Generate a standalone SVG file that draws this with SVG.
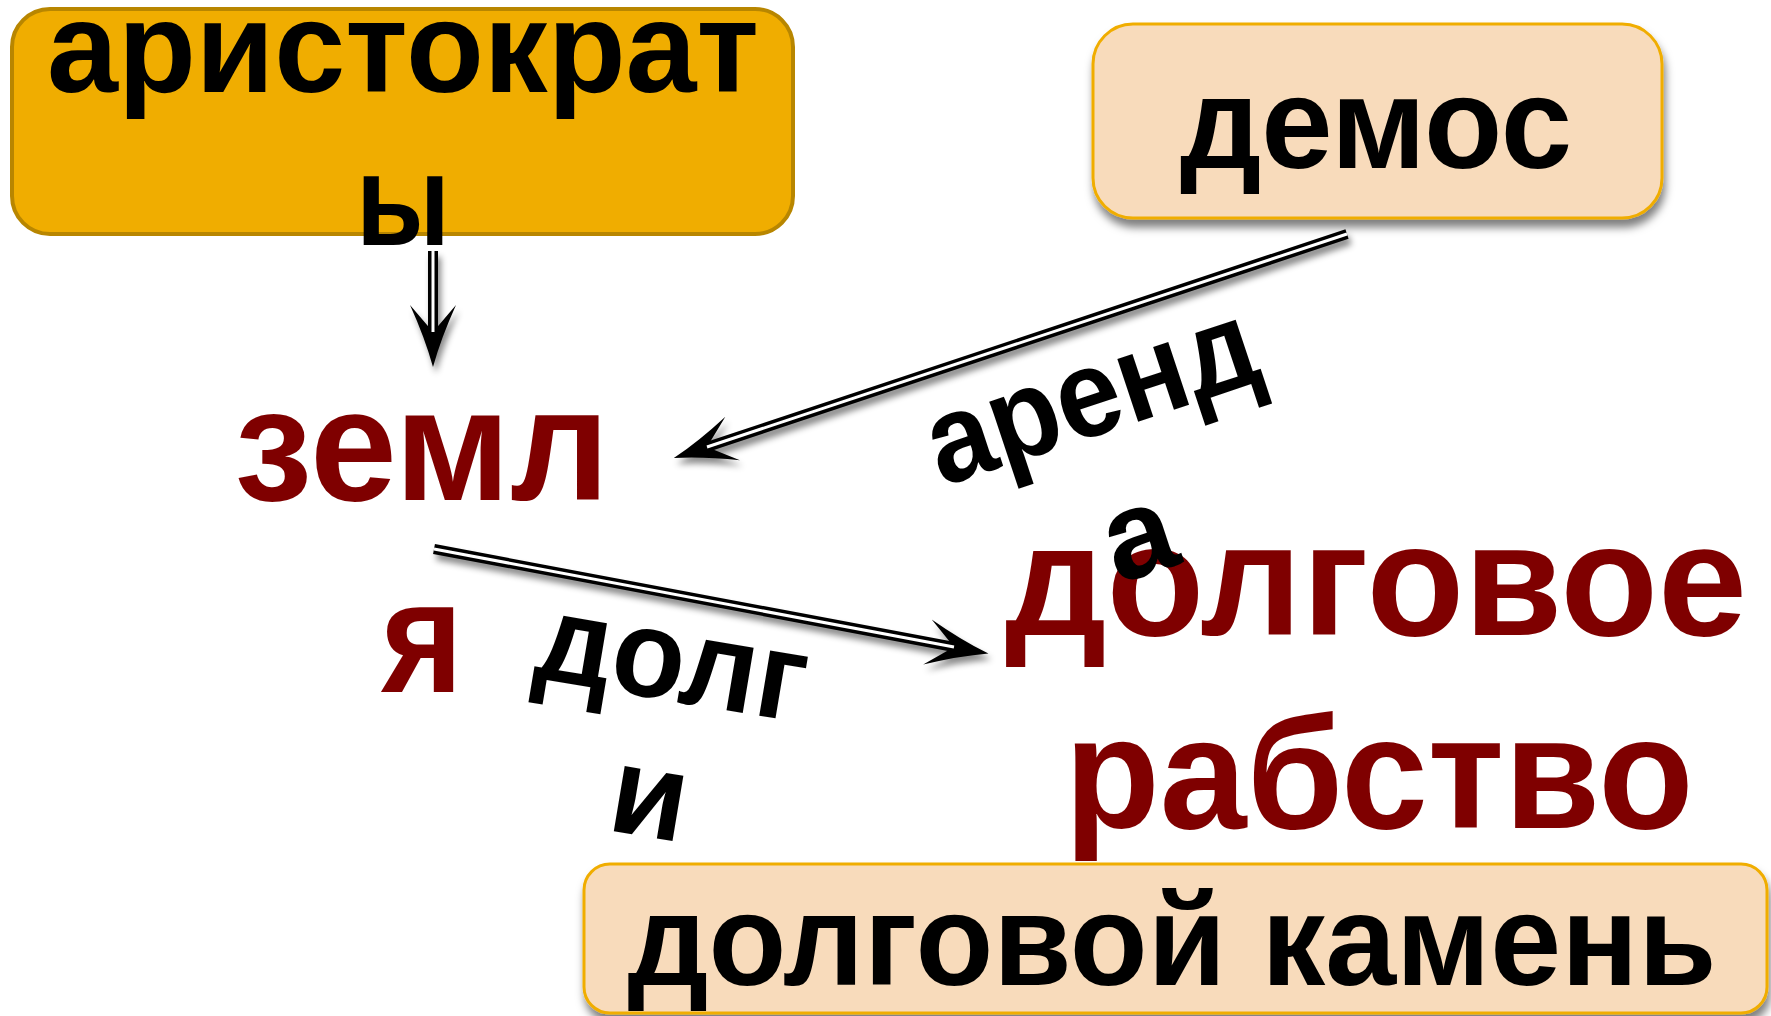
<svg xmlns="http://www.w3.org/2000/svg" width="1771" height="1016" viewBox="0 0 1771 1016">
<style>
.t{font-family:"Liberation Sans",Arial,sans-serif;font-weight:bold;text-anchor:middle}
.blk{fill:#000;font-size:130px}
.red{fill:#7F0000;font-size:160px}
.lbl{fill:#000;font-size:125px}
.gold{fill:#F0AD00;stroke:#B88600;stroke-width:4}
.peach{fill:#F8DBBB;stroke:#F0AD00;stroke-width:3}
.lk{stroke:#000;stroke-width:10;fill:none}
.lw{stroke:#fff;stroke-width:3;fill:none}
</style>
<defs>
<filter id="sh" filterUnits="userSpaceOnUse" x="0" y="0" width="1771" height="1016">
<feDropShadow dx="3" dy="6" stdDeviation="3" flood-color="#000" flood-opacity="0.45"/>
</filter>
<filter id="bsh" filterUnits="userSpaceOnUse" x="0" y="0" width="1771" height="1016">
<feDropShadow dx="2" dy="8" stdDeviation="4" flood-color="#000" flood-opacity="0.5"/>
</filter>
<marker id="ah" markerUnits="userSpaceOnUse" markerWidth="70" markerHeight="50" viewBox="0 -25 70 50" refX="27" refY="0" orient="auto">
<path d="M0,-23 Q33,-8 62,0 Q33,8 0,23 L27,0 Z" fill="#000"/>
</marker>
</defs>
<rect width="1771" height="1016" fill="#fff"/>

<g id="node-aristokraty">
<rect class="gold" x="12" y="9" width="781" height="225" rx="38"/>
<text class="t blk" x="403" y="92" textLength="712" lengthAdjust="spacingAndGlyphs">аристократ</text>
<text class="t blk" x="403" y="245" textLength="94" lengthAdjust="spacingAndGlyphs">ы</text>
</g>

<g id="node-demos">
<rect class="peach" x="1093" y="24" width="569" height="194" rx="40" filter="url(#bsh)"/>
<text class="t blk" x="1376" y="168" textLength="392" lengthAdjust="spacingAndGlyphs">демос</text>
</g>

<g id="node-zemlya">
<text class="t red" x="422" y="500" textLength="375" lengthAdjust="spacingAndGlyphs">земл</text>
<text class="t red" x="422" y="692" textLength="82" lengthAdjust="spacingAndGlyphs">я</text>
</g>

<g id="node-dolgovoe">
<text class="t red" x="1376" y="635" textLength="742" lengthAdjust="spacingAndGlyphs">долговое</text>
<text class="t red" x="1379" y="828" textLength="629" lengthAdjust="spacingAndGlyphs">рабство</text>
</g>

<g id="node-kamen">
<rect class="peach" x="584" y="864" width="1183" height="149" rx="26" filter="url(#bsh)"/>
<text class="t blk" x="1172" y="985" textLength="1089" lengthAdjust="spacingAndGlyphs">долговой камень</text>
</g>

<g id="connectors" filter="url(#sh)">
<g id="c-aristo-zemlya">
<path class="lk" d="M433,251 L433,332" marker-end="url(#ah)"/>
<path class="lw" d="M433,251 L433,332"/>
</g>
<g id="c-demos-zemlya">
<path class="lk" d="M1347,234 L707,447" marker-end="url(#ah)"/>
<path class="lw" d="M1347,234 L707,447"/>
</g>
<g id="c-zemlya-dolg">
<path class="lk" d="M434,549 L954,647" marker-end="url(#ah)"/>
<path class="lw" d="M434,549 L954,647"/>
</g>
</g>

<g id="label-arenda" transform="translate(1104,433) rotate(-18.4)">
<text class="t lbl" x="0" y="0" textLength="342" lengthAdjust="spacingAndGlyphs">аренд</text>
<text class="t lbl" x="0" y="148">а</text>
</g>

<g id="label-dolgi" transform="translate(666,700) rotate(9.5)">
<text class="t lbl" x="0" y="0" textLength="272" lengthAdjust="spacingAndGlyphs">долг</text>
<text class="t lbl" x="0" y="138">и</text>
</g>
</svg>
